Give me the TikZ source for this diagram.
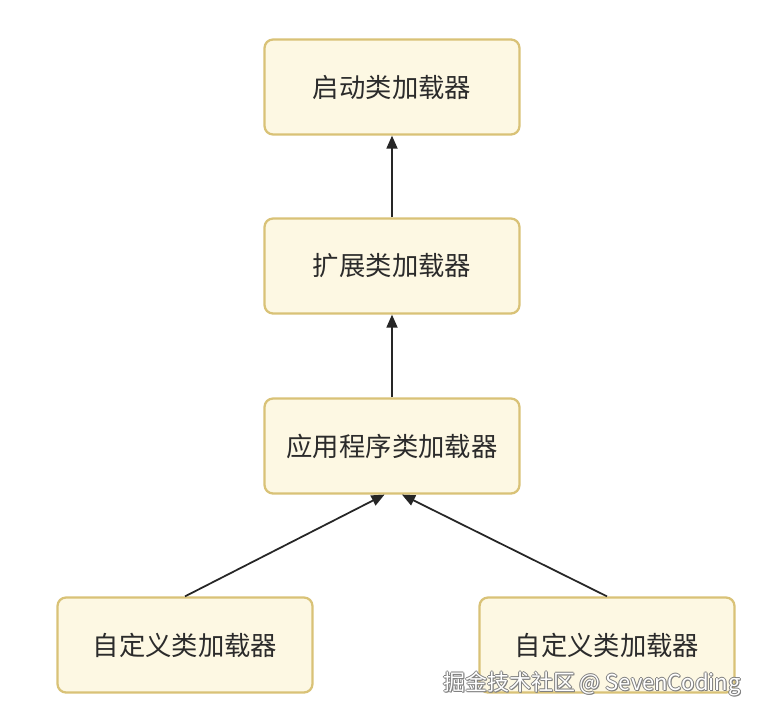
\documentclass[tikz,border=0pt]{standalone}
\usepackage{fontspec}
\newfontfamily\cjk{Noto Sans CJK SC}
\usetikzlibrary{positioning,arrows.meta,calc}
\definecolor{boxfill}{HTML}{FDF8E3}
\definecolor{boxline}{HTML}{D9C277}
\definecolor{textgray}{HTML}{2B2B2B}

\begin{document}
\begin{tikzpicture}[x=0.02cm,y=-0.02cm,
  loader/.style={rectangle,rounded corners=0.17cm,draw=boxline,line width=1.3pt,
    fill=boxfill,minimum width=5.1cm,minimum height=1.9cm,inner sep=0pt,
    font=\cjk\fontsize{15}{17}\selectfont,text=textgray},
  link/.style={-{Triangle[length=0.26cm,width=0.22cm]},line width=1pt,draw=black!85},
  wmark/.style={font=\cjk\fontsize{12.5}{14}\selectfont}]
  \fill[white] (0,0) rectangle (757,713);
  \useasboundingbox (0,0) rectangle (757,713);
  \node[loader] (boot) at (392,87) {启动类加载器};
  \node[loader] (ext) at (392,266) {扩展类加载器};
  \node[loader] (app) at (392,446) {应用程序类加载器};
  \node[loader] (custA) at (185,645) {自定义类加载器};
  \node[loader] (custB) at (607,645) {自定义类加载器};
  \draw[link] (ext) -- (boot);
  \draw[link] (app) -- (ext);
  \draw[link] (custA.north) -- ([xshift=-0.15cm]app.south);
  \draw[link] (custB.north) -- ([xshift=0.2cm]app.south);
  % watermark
  \foreach \dx/\dy in {-1/0,1/0,0/-1,0/1,1/1}
    \node[wmark,text=black!50] at (592+\dx,684+\dy) {掘金技术社区 @ SevenCoding};
  \node[wmark,text=white] (wm) at (592,684) {掘金技术社区 @ SevenCoding};
\end{tikzpicture}
\end{document}
